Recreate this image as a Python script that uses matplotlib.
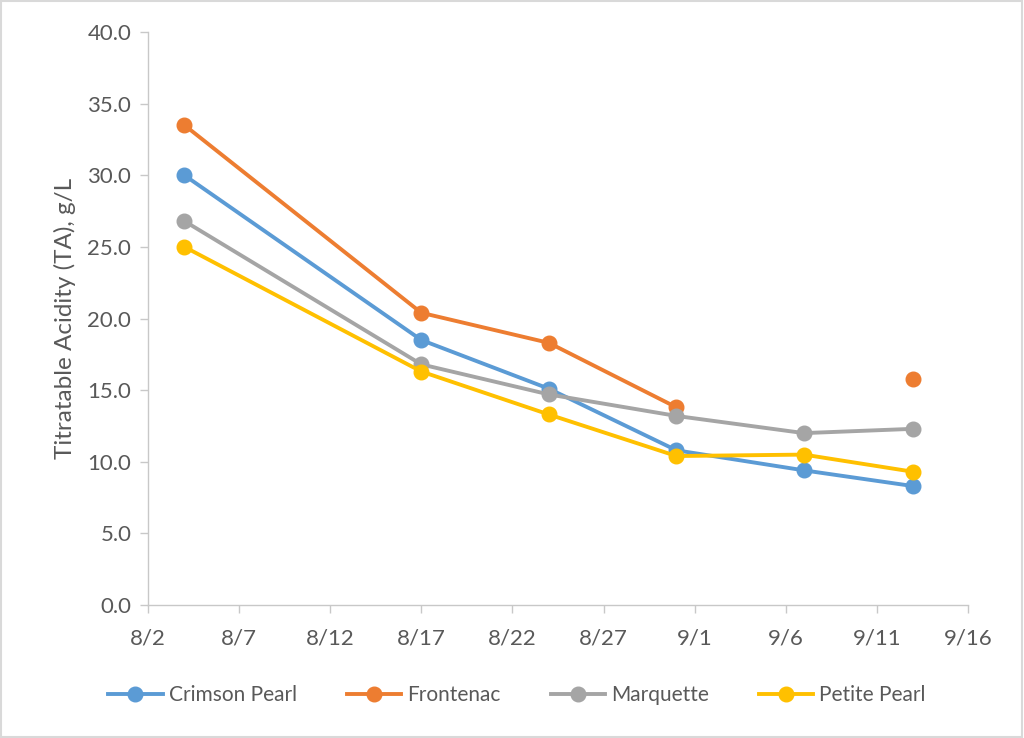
import numpy as np
import pandas as pd
import matplotlib
matplotlib.use('Agg')
import matplotlib.pyplot as plt
from matplotlib.patches import Rectangle

# Sampling dates
dates = pd.to_datetime(['2019-08-04', '2019-08-17', '2019-08-24',
                        '2019-08-31', '2019-09-07', '2019-09-13'])

# Titratable acidity (g/L) per cultivar
crimson_pearl = [30.0, 18.5, 15.1, 10.8, 9.4, 8.3]
frontenac = [33.5, 20.4, 18.3, 13.8, np.nan, 15.8]
marquette = [26.8, 16.8, 14.7, 13.2, 12.0, 12.3]
petite_pearl = [25.0, 16.3, 13.3, 10.4, 10.5, 9.3]

series = [('Crimson Pearl', crimson_pearl, '#5B9BD5'),
          ('Frontenac', frontenac, '#ED7D31'),
          ('Marquette', marquette, '#A5A5A5'),
          ('Petite Pearl', petite_pearl, '#FFC000')]

tick_dates = pd.date_range('2019-08-02', '2019-09-16', freq='5D')

text_color = '#595959'
axis_color = '#C8C8C8'
plt.rcParams['font.family'] = ['Lato', 'DejaVu Sans']

fig = plt.figure(figsize=(10.24, 7.38), dpi=100)
ax = fig.add_axes([0.1445, 0.1802, 0.8008, 0.7764])

for name, vals, color in series:
    ax.plot(dates, vals, color=color, linewidth=2.8, marker='o',
            markersize=10.5, label=name)

ax.set_xlim(tick_dates[0], tick_dates[-1])
ax.set_ylim(0, 40)
ax.set_yticks(np.arange(0, 40.1, 5))
ax.yaxis.set_major_formatter(matplotlib.ticker.FormatStrFormatter('%.1f'))
ax.set_xticks(tick_dates)
ax.set_xticklabels([f'{d.month}/{d.day}' for d in tick_dates])

for side in ['top', 'right']:
    ax.spines[side].set_visible(False)
for side in ['left', 'bottom']:
    ax.spines[side].set_color(axis_color)
    ax.spines[side].set_linewidth(1.0)
ax.tick_params(axis='both', colors=axis_color, labelcolor=text_color,
               labelsize=16, length=6, width=1.0)
ax.tick_params(axis='x', pad=11)
ax.tick_params(axis='y', pad=6)
ax.set_ylabel('Titratable Acidity (TA), g/L', fontsize=17.5, color=text_color,
              labelpad=8)

fig.legend(loc='center', bbox_to_anchor=(0.505, 0.058), ncol=4, frameon=False,
           fontsize=15, labelcolor=text_color, handlelength=2.6,
           columnspacing=2.4, handletextpad=0.3)

# Light border round the figure
fig.patches.append(Rectangle((0.001, 0.001), 0.997, 0.997, transform=fig.transFigure,
                             fill=False, edgecolor='#D9D9D9', linewidth=1.5))

fig.savefig('out.png', dpi=100)
